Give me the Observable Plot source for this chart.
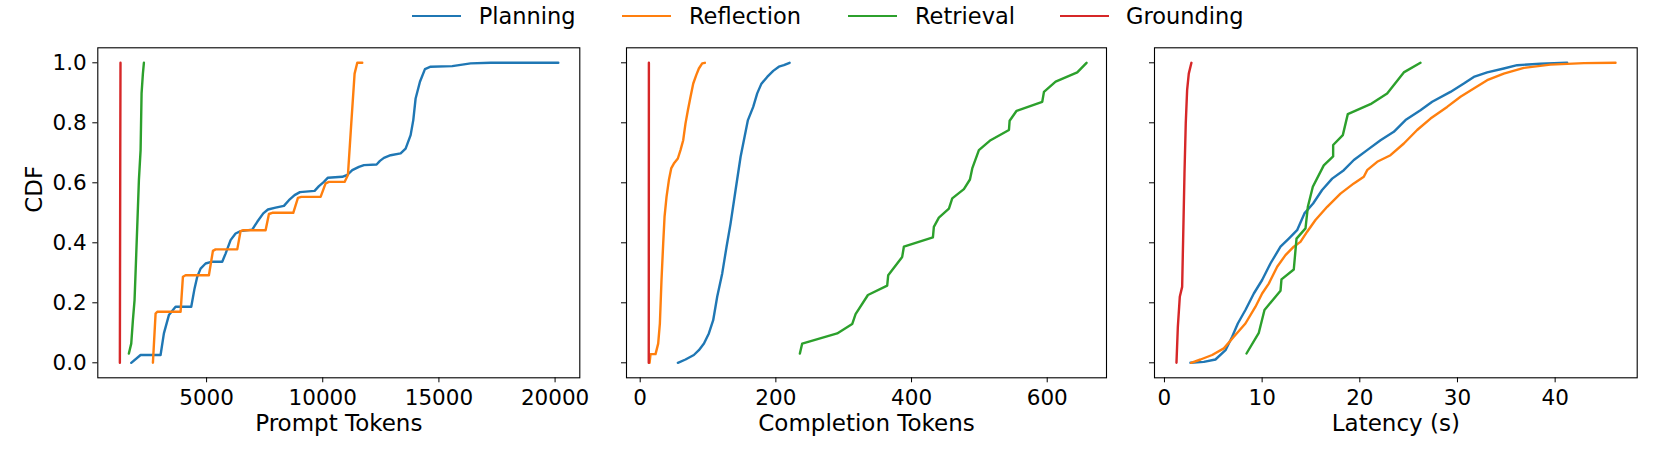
<!DOCTYPE html>
<html>
<head>
<meta charset="utf-8">
<script src="https://cdn.jsdelivr.net/npm/d3@7"></script>
<script src="https://cdn.jsdelivr.net/npm/@observablehq/plot@0.6"></script>
<style>
  html, body { margin: 0; padding: 0; background: white; }
  body { width: 1661px; height: 461px; position: relative; overflow: hidden; font-family: "DejaVu Sans", sans-serif; }
  .panel { position: absolute; top: 0; z-index: 1; }
  #legend { position: absolute; left: 0; top: 0; width: 1661px; height: 40px; z-index: 5; }
  .legend-line { position: absolute; height: 2px; }
  .legend-text { position: absolute; font-size: 22.5px; line-height: 26px; color: black; white-space: nowrap; }
</style>
</head>
<body>
<div id="p1" class="panel" style="left:0px"></div>
<div id="p2" class="panel" style="left:602px"></div>
<div id="p3" class="panel" style="left:1130px"></div>
<div id="legend"></div>
<script>
// ---- categories & colours ----
const seriesNames = ["Planning", "Reflection", "Retrieval", "Grounding"];
const seriesColors = ["#1f77b4", "#ff7f0e", "#2ca02c", "#d62728"];

// ---- tick values ----
const yTicks = [0, 0.2, 0.4, 0.6, 0.8, 1.0];
const promptTicks = [5000, 10000, 15000, 20000];
const completionTicks = [0, 200, 400, 600];
const latencyTicks = [0, 10, 20, 30, 40];

// ---- Panel 1: Prompt Tokens (x, CDF) ----
const promptPlanning = [[1757,0],[2159,0.026],[3020,0.026],[3163,0.098],[3378,0.159],[3665,0.187],[4340,0.187],[4483,0.248],[4598,0.287],[4742,0.314],[4957,0.331],[5244,0.337],[5674,0.337],[5818,0.364],[6033,0.409],[6248,0.431],[6464,0.439],[6966,0.444],[7181,0.470],[7440,0.498],[7641,0.511],[7971,0.517],[8329,0.523],[8544,0.542],[8788,0.559],[9018,0.569],[9649,0.573],[9836,0.589],[10051,0.603],[10223,0.617],[10840,0.620],[11055,0.626],[11271,0.642],[11558,0.653],[11773,0.659],[12318,0.661],[12462,0.673],[12634,0.683],[12921,0.692],[13352,0.698],[13567,0.714],[13782,0.759],[13897,0.809],[13997,0.881],[14184,0.937],[14399,0.979],[14643,0.987],[15575,0.989],[16365,0.998],[17226,1.0],[20139,1.0]];
const promptReflection = [[2690,0],[2805,0.164],[2877,0.170],[3881,0.170],[3982,0.287],[4096,0.292],[5100,0.292],[5273,0.373],[5388,0.378],[6320,0.378],[6464,0.439],[6579,0.442],[7540,0.442],[7684,0.496],[7827,0.500],[8731,0.500],[8932,0.550],[9076,0.553],[9908,0.553],[10123,0.598],[10266,0.603],[10940,0.603],[11084,0.626],[11228,0.798],[11371,0.964],[11486,1.0],[11701,1.0]];
const promptRetrieval = [[1656,0.031],[1757,0.064],[1829,0.142],[1900,0.209],[1958,0.331],[2015,0.453],[2087,0.609],[2160,0.709],[2202,0.898],[2259,0.964],[2302,1.0]];
const promptGrounding = [[1268,0],[1275,0.3],[1285,0.7],[1295,1.0]];

// ---- Panel 2: Completion Tokens ----
const completionPlanning = [[55.5,0],[66.8,0.011],[79.1,0.026],[86.5,0.042],[94,0.064],[101.2,0.098],[107.6,0.142],[113.5,0.22],[120.9,0.298],[127.3,0.387],[133.2,0.464],[140.6,0.576],[148,0.687],[153.8,0.753],[158.8,0.809],[166.6,0.853],[172.5,0.898],[178.4,0.929],[187.2,0.953],[196.1,0.973],[204.4,0.987],[211.8,0.992],[220.2,1.0]];
const completionReflection = [[13.8,0],[15.2,0.029],[22.6,0.029],[26.5,0.064],[29,0.131],[31.4,0.276],[33.9,0.398],[35.9,0.487],[38.8,0.553],[42.3,0.609],[45.7,0.648],[49.6,0.664],[55.5,0.681],[59.4,0.709],[63.4,0.742],[66.8,0.798],[70.3,0.842],[74.2,0.887],[78.2,0.931],[82.6,0.959],[86.5,0.981],[91.4,0.998],[95.3,1.0]];
const completionRetrieval = [[235.4,0.031],[238.8,0.064],[290.4,0.098],[312.5,0.129],[317.5,0.162],[335.7,0.226],[364.1,0.257],[365.6,0.292],[386.2,0.353],[388.7,0.387],[431.5,0.418],[432.9,0.453],[440.3,0.484],[455.1,0.514],[460,0.548],[477.2,0.579],[486.1,0.611],[489.5,0.648],[499.3,0.709],[516.5,0.742],[543.6,0.776],[544.6,0.807],[554.9,0.84],[592.7,0.87],[595.2,0.903],[612.4,0.937],[644.3,0.968],[658,1.0]];
const completionGrounding = [[12.6,0],[12.7,0.5],[12.8,1.0]];

// ---- Panel 3: Latency (s) ----
const latencyPlanning = [[2.66,0],[4.03,0.003],[5.22,0.011],[6.25,0.042],[6.93,0.087],[7.51,0.131],[8.29,0.176],[9.15,0.231],[10,0.276],[10.85,0.331],[11.88,0.387],[12.73,0.414],[13.58,0.442],[14.33,0.498],[15.22,0.531],[16.14,0.576],[17.17,0.614],[18.36,0.642],[19.39,0.676],[20.75,0.709],[22.12,0.742],[23.48,0.77],[24.68,0.809],[26.21,0.842],[27.41,0.87],[29.28,0.903],[30.65,0.931],[31.67,0.953],[33.04,0.968],[34.74,0.981],[36.11,0.992],[38.5,0.997],[41.23,1.0]];
const latencyReflection = [[2.73,0],[3.69,0.011],[4.88,0.026],[6.08,0.048],[7.1,0.087],[8.29,0.131],[9.32,0.187],[10,0.231],[10.68,0.264],[11.54,0.32],[12.39,0.359],[13.24,0.387],[13.92,0.403],[14.61,0.437],[15.46,0.476],[16.66,0.52],[18.02,0.564],[19.39,0.598],[20.41,0.62],[20.75,0.642],[21.78,0.67],[23.14,0.692],[24.51,0.731],[25.87,0.776],[27.24,0.814],[28.94,0.853],[30.31,0.887],[31.67,0.914],[33.04,0.942],[34.74,0.964],[36.79,0.983],[39.52,0.994],[42.94,0.999],[46.18,1.0]];
const latencyRetrieval = [[8.4,0.031],[9.66,0.1],[10.24,0.176],[11.88,0.24],[11.98,0.278],[13.24,0.311],[13.52,0.414],[14.44,0.448],[14.68,0.52],[15.19,0.587],[16.31,0.658],[17.27,0.688],[17.27,0.726],[18.26,0.759],[18.77,0.829],[21.09,0.862],[22.8,0.898],[24.5,0.968],[26.21,1.0]];
const latencyGrounding = [[1.23,0],[1.37,0.12],[1.57,0.22],[1.81,0.253],[1.91,0.409],[2.05,0.631],[2.18,0.798],[2.32,0.909],[2.49,0.964],[2.76,1.0]];

// ---- build tables ----
function table(groups) {
  const rows = [];
  groups.forEach((pts, i) => pts.forEach(([x, y]) => rows.push({x, y, series: seriesNames[i]})));
  return rows;
}
const promptData = table([promptPlanning, promptReflection, promptRetrieval, promptGrounding]);
const completionData = table([completionPlanning, completionReflection, completionRetrieval, completionGrounding]);
const latencyData = table([latencyPlanning, latencyReflection, latencyRetrieval, latencyGrounding]);

const fontStyle = {fontFamily: "DejaVu Sans", fontSize: "21.5px", color: "black", background: "transparent", overflow: "visible"};

function panel({data, width, marginLeft, marginRight, xDomain, xTicks, xLabel, showY}) {
  const marks = [
    Plot.line(data, {x: "x", y: "y", z: "series", stroke: "series", strokeWidth: 2.4, curve: "linear"}),
    Plot.frame({stroke: "black", strokeWidth: 1.1}),
    Plot.axisX({ticks: xTicks, tickSize: 5, tickPadding: 7, tickFormat: d => String(d), label: null, stroke: "black", fill: "black"}),
    Plot.axisY({ticks: yTicks, tickSize: 5, tickPadding: 6, tickFormat: showY ? d3.format(".1f") : () => "", label: null, stroke: "black", fill: "black"}),
    Plot.text([xLabel], {frameAnchor: "bottom", dy: 53, lineAnchor: "bottom", fontSize: 23, fill: "black", text: d => d})
  ];
  if (showY) marks.push(Plot.text(["CDF"], {frameAnchor: "left", dx: -72, rotate: -90, lineAnchor: "top", fontSize: 23, fill: "black", text: d => d}));
  return Plot.plot({
    width, height: 461,
    marginTop: 47.3, marginBottom: 83.7, marginLeft, marginRight,
    style: fontStyle,
    x: {domain: xDomain},
    y: {domain: [-0.05, 1.05]},
    color: {domain: seriesNames, range: seriesColors},
    marks
  });
}

document.getElementById("p1").append(panel({data: promptData, width: 602, marginLeft: 97.3, marginRight: 22.7, xDomain: [318, 21064], xTicks: promptTicks, xLabel: "Prompt Tokens", showY: true}));
document.getElementById("p2").append(panel({data: completionData, width: 528, marginLeft: 24, marginRight: 24, xDomain: [-20.2, 687.4], xTicks: completionTicks, xLabel: "Completion Tokens", showY: false}));
document.getElementById("p3").append(panel({data: latencyData, width: 531, marginLeft: 24, marginRight: 24.3, xDomain: [-1.02, 48.4], xTicks: latencyTicks, xLabel: "Latency (s)", showY: false}));

// ---- legend ----
const legendLineLeft = [411.6, 622, 848, 1060];
const legendTextLeft = [478.7, 689, 915, 1126];
const legend = document.getElementById("legend");
seriesNames.forEach((name, i) => {
  const line = document.createElement("div");
  line.className = "legend-line";
  line.style.left = legendLineLeft[i] + "px";
  line.style.width = "49px";
  line.style.top = "15px";
  line.style.background = seriesColors[i];
  legend.append(line);
  const t = document.createElement("div");
  t.className = "legend-text";
  t.style.left = legendTextLeft[i] + "px";
  t.style.top = "3px";
  t.textContent = name;
  legend.append(t);
});
</script>
</body>
</html>
